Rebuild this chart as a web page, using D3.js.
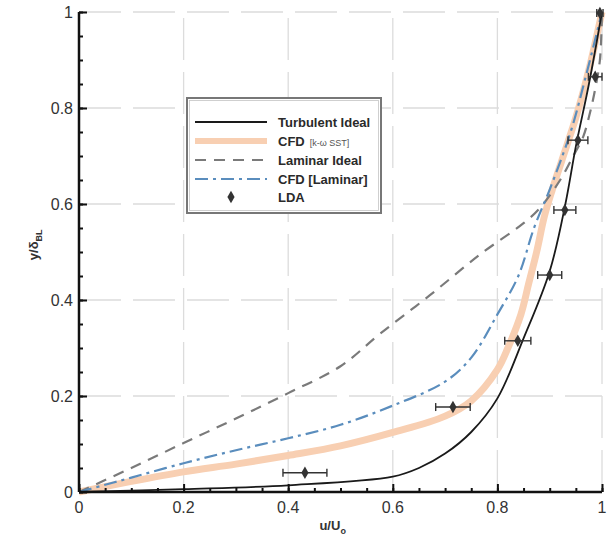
<!DOCTYPE html>
<html><head><meta charset="utf-8">
<script src="https://cdn.jsdelivr.net/npm/d3@7"></script>
<style>body{margin:0;background:#fff}svg{display:block}</style>
</head><body>
<svg id="c" width="608" height="543"></svg>
<script>
const xTicks=[0,0.2,0.4,0.6,0.8,1];
const yTicks=[0,0.2,0.4,0.6,0.8,1];
const xTickLabels=["0","0.2","0.4","0.6","0.8","1"];
const yTickLabels=["0","0.2","0.4","0.6","0.8","1"];
const turbulentIdeal=[[0,0],[0.2,0.006],[0.4,0.014],[0.6,0.032],[0.65,0.05],[0.7,0.08],[0.75,0.125],[0.8,0.195],[0.85,0.32],[0.9,0.46],[0.93,0.6],[0.95,0.72],[0.975,0.85],[1,1]];
const cfdSST=[[0,0],[0.1,0.022],[0.2,0.042],[0.3,0.058],[0.4,0.076],[0.5,0.096],[0.6,0.124],[0.7,0.158],[0.75,0.19],[0.8,0.255],[0.82,0.3],[0.845,0.37],[0.86,0.435],[0.875,0.5],[0.89,0.575],[0.905,0.63],[0.923,0.69],[0.95,0.78],[0.975,0.88],[1,1]];
const laminarIdeal=[[0,0],[0.1,0.05],[0.2,0.102],[0.3,0.153],[0.4,0.206],[0.5,0.262],[0.576,0.33],[0.671,0.41],[0.767,0.495],[0.85,0.56],[0.88,0.59],[0.92,0.65],[0.945,0.7],[0.964,0.74],[0.977,0.79],[0.987,0.84],[0.996,0.9],[1,1]];
const cfdLaminar=[[0,0],[0.05,0.015],[0.1,0.03],[0.2,0.06],[0.3,0.087],[0.4,0.112],[0.5,0.14],[0.6,0.18],[0.7,0.23],[0.75,0.28],[0.8,0.37],[0.84,0.45],[0.87,0.55],[0.9,0.63],[0.94,0.75],[0.97,0.87],[1,1]];
const ldaU=[0.432,0.715,0.839,0.900,0.929,0.954,0.987,0.996];
const ldaY=[0.040,0.177,0.315,0.452,0.5875,0.733,0.865,0.998];
const ldaErr=[0.042,0.033,0.025,0.023,0.021,0.019,0.013,0.006];
const legendLabels=["Turbulent Ideal","CFD","Laminar Ideal","CFD [Laminar]","LDA"];

const svg=d3.select("#c");
const x=d3.scaleLinear().domain([0,1]).range([79,602]);
const y=d3.scaleLinear().domain([0,1]).range([492,12]);
const minor=d3.range(0,1.0001,0.05);

// grid
const grid=svg.append("g").attr("stroke","#dcdcdc").attr("stroke-width",1.3).attr("stroke-dasharray","42,12");
grid.selectAll("line.v").data(xTicks.slice(1)).join("line").attr("x1",d=>x(d)).attr("x2",d=>x(d)).attr("y1",y(0)).attr("y2",y(1));
grid.selectAll("line.h").data(yTicks.slice(1)).join("line").attr("y1",d=>y(d)).attr("y2",d=>y(d)).attr("x1",x(0)).attr("x2",x(1));

const line=d3.line().x(d=>x(d[0])).y(d=>y(d[1])).curve(d3.curveCatmullRom.alpha(0.5));

const orange="#f8cfb2";
svg.append("path").datum(cfdSST).attr("d",line).attr("fill","none").attr("stroke",orange).attr("stroke-width",7).attr("stroke-linejoin","round");
svg.append("path").datum(laminarIdeal).attr("d",line).attr("fill","none").attr("stroke","#7a7a7a").attr("stroke-width",2.2).attr("stroke-dasharray","11,8");
svg.append("path").datum(cfdLaminar).attr("d",line).attr("fill","none").attr("stroke","#5a8dbd").attr("stroke-width",2.2).attr("stroke-dasharray","13,5,3,5");
svg.append("path").datum(turbulentIdeal).attr("d",line).attr("fill","none").attr("stroke","#1a1a1a").attr("stroke-width",1.8);

// LDA
const lda=svg.append("g").attr("stroke","#333").attr("stroke-width",1.4);
ldaU.forEach((u,i)=>{
  const cy=y(ldaY[i]);
  lda.append("line").attr("x1",x(u-ldaErr[i])).attr("x2",x(u+ldaErr[i])).attr("y1",cy).attr("y2",cy);
  [u-ldaErr[i],u+ldaErr[i]].forEach(e=>lda.append("line").attr("x1",x(e)).attr("x2",x(e)).attr("y1",cy-4).attr("y2",cy+4));
  lda.append("path").attr("d",d3.symbol(d3.symbolDiamond,45)()).attr("transform",`translate(${x(u)},${cy})`).attr("fill","#333").attr("stroke","none");
});

// axes
const ax=svg.append("g");
ax.append("g").attr("transform",`translate(0,${y(0)})`).call(d3.axisTop(x).tickValues(minor).tickSize(4).tickFormat(""));
ax.append("g").attr("transform",`translate(0,${y(0)})`).call(d3.axisTop(x).tickValues(xTicks).tickSize(8).tickFormat(""));
ax.append("g").attr("transform",`translate(${x(0)},0)`).call(d3.axisRight(y).tickValues(minor).tickSize(4).tickFormat(""));
ax.append("g").attr("transform",`translate(${x(0)},0)`).call(d3.axisRight(y).tickValues(yTicks).tickSize(8).tickFormat(""));
ax.selectAll(".domain").remove();
ax.selectAll(".tick line").attr("stroke","#111").attr("stroke-width",2);
ax.append("line").attr("x1",x(0)).attr("x2",x(1)).attr("y1",y(0)).attr("y2",y(0)).attr("stroke","#111").attr("stroke-width",2.5);
ax.append("line").attr("x1",x(0)).attr("x2",x(0)).attr("y1",y(0)).attr("y2",y(1)).attr("stroke","#111").attr("stroke-width",2.5);

const tf="Liberation Sans, Arial, sans-serif";
svg.append("g").selectAll("text").data(xTicks).join("text").attr("x",d=>x(d)).attr("y",y(0)+21).attr("text-anchor","middle")
  .attr("font-family",tf).attr("font-size",16).attr("fill","#333").text((d,i)=>xTickLabels[i]);
svg.append("g").selectAll("text").data(yTicks).join("text").attr("x",x(0)-6).attr("y",d=>y(d)+6).attr("text-anchor","end")
  .attr("font-family",tf).attr("font-size",16).attr("fill","#333").text((d,i)=>yTickLabels[i]);

// axis titles
const xt=svg.append("text").attr("x",x(0.485)).attr("y",530).attr("text-anchor","middle").attr("font-family",tf).attr("font-size",13).attr("font-weight","bold").attr("fill","#333");
xt.append("tspan").text("u/U");
xt.append("tspan").attr("font-size",9).attr("dy",4).text("o");
const yt=svg.append("text").attr("transform",`translate(38,${y(0.515)}) rotate(-90)`).attr("text-anchor","middle").attr("font-family",tf).attr("font-size",13).attr("font-weight","bold").attr("fill","#333");
yt.append("tspan").text("y/δ");
yt.append("tspan").attr("font-size",9).attr("dy",4).text("BL");

// legend
const lg=svg.append("g");
lg.append("rect").attr("x",187).attr("y",98).attr("width",194).attr("height",115).attr("fill","#fff").attr("stroke","#777").attr("stroke-width",2);
lg.append("rect").attr("x",189.5).attr("y",100.5).attr("width",189).attr("height",110).attr("fill","none").attr("stroke","#c4c4c4").attr("stroke-width",0.8);
const rows=[122,141,160,179,197];
const sx1=195,sx2=267;
lg.append("line").attr("x1",sx1).attr("x2",sx2).attr("y1",rows[0]).attr("y2",rows[0]).attr("stroke","#1a1a1a").attr("stroke-width",2);
lg.append("line").attr("x1",sx1).attr("x2",sx2).attr("y1",rows[1]).attr("y2",rows[1]).attr("stroke",orange).attr("stroke-width",6);
lg.append("line").attr("x1",sx1).attr("x2",sx2).attr("y1",rows[2]).attr("y2",rows[2]).attr("stroke","#7a7a7a").attr("stroke-width",2.2).attr("stroke-dasharray","11,8");
lg.append("line").attr("x1",sx1).attr("x2",sx2).attr("y1",rows[3]).attr("y2",rows[3]).attr("stroke","#5a8dbd").attr("stroke-width",2.2).attr("stroke-dasharray","13,5,3,5");
lg.append("path").attr("d",d3.symbol(d3.symbolDiamond,45)()).attr("transform",`translate(${(sx1+sx2)/2},${rows[4]})`).attr("fill","#333");
legendLabels.forEach((t,i)=>{
  const tx=lg.append("text").attr("x",278).attr("y",rows[i]+5).attr("font-family",tf).attr("font-size",13).attr("font-weight","bold").attr("fill","#2a2a2a").text(t);
  if(i===1){tx.append("tspan").attr("font-size",9).attr("font-weight","normal").attr("dx",5).attr("fill","#555").text("[k-ω SST]");}
});
</script>
</body></html>
